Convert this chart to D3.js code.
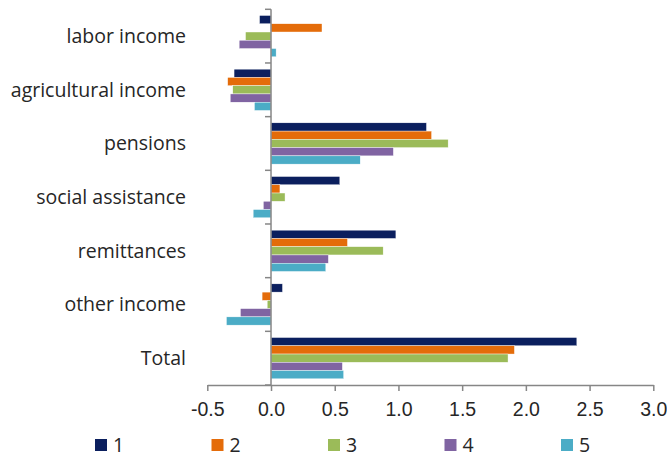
<!DOCTYPE html>
<html>
<head>
<meta charset="utf-8">
<script src="https://cdn.jsdelivr.net/npm/d3@7"></script>
<style>
  html, body { margin: 0; padding: 0; background: #fff; }
  svg { display: block; font-family: "Open Sans", "Noto Sans", sans-serif; }
</style>
</head>
<body>
<svg id="chart" width="667" height="457"></svg>
<script>
// Income components (rows) by group 1–5
const categories = ["labor income", "agricultural income", "pensions", "social assistance", "remittances", "other income", "Total"];
const seriesNames = ["1", "2", "3", "4", "5"];
const series1 = [-0.09, -0.29, 1.22, 0.54, 0.98, 0.09, 2.40];
const series2 = [0.40, -0.34, 1.26, 0.07, 0.60, -0.07, 1.91];
const series3 = [-0.20, -0.30, 1.39, 0.11, 0.88, -0.03, 1.86];
const series4 = [-0.25, -0.32, 0.96, -0.06, 0.45, -0.24, 0.56];
const series5 = [0.04, -0.13, 0.70, -0.14, 0.43, -0.35, 0.57];
const xTicks = [-0.5, 0, 0.5, 1, 1.5, 2, 2.5, 3];
const colors = ["#0B1F5E", "#E46C0A", "#9BBB59", "#8064A2", "#4BACC6"];

const allSeries = [series1, series2, series3, series4, series5];

const svg = d3.select("#chart");
const axisColor = "#868686";
const textColor = "#262626";

const x = d3.scaleLinear().domain([-0.5, 3]).range([207.3, 653.3]);
const y = d3.scaleBand().domain(categories).range([9.3, 385]).paddingInner(0).paddingOuter(0);
const ySub = d3.scaleBand().domain(seriesNames).range([0, y.bandwidth()]).paddingInner(0).paddingOuter(0.75);

// bars
const rows = categories.map((c, i) => ({ cat: c, vals: allSeries.map((s, k) => ({ name: seriesNames[k], v: s[i], k })) }));
const g = svg.append("g");
g.selectAll("g.row").data(rows).join("g")
  .attr("class", "row")
  .attr("transform", d => `translate(0,${y(d.cat)})`)
  .selectAll("rect").data(d => d.vals).join("rect")
  .attr("x", d => x(Math.min(0, d.v)))
  .attr("width", d => Math.abs(x(d.v) - x(0)))
  .attr("y", d => ySub(d.name))
  .attr("height", ySub.bandwidth())
  .attr("fill", d => colors[d.k])
  .attr("stroke", "#ffffff")
  .attr("stroke-width", 0.4);

// x axis
const xAxis = d3.axisBottom(x).tickValues(xTicks).tickSize(6).tickSizeOuter(0).tickPadding(9)
  .tickFormat(d => d.toFixed(1));
const gx = svg.append("g").attr("transform", "translate(0,385)").call(xAxis);
gx.select(".domain").attr("stroke", axisColor).attr("stroke-width", 1.5);
gx.selectAll(".tick line").attr("stroke", axisColor).attr("stroke-width", 1.5);
gx.selectAll(".tick text").attr("fill", textColor).style("font-size", "19.5px").attr("dy", "0.8em");

// y axis (category boundaries as ticks)
const gy = svg.append("g");
gy.append("line").attr("x1", x(0)).attr("x2", x(0)).attr("y1", y.range()[0]).attr("y2", y.range()[1])
  .attr("stroke", axisColor).attr("stroke-width", 1.5);
const bounds = categories.map(c => y(c)).concat([y.range()[1]]);
gy.selectAll("line.yt").data(bounds).join("line").attr("class", "yt")
  .attr("x1", x(0) - 6).attr("x2", x(0)).attr("y1", d => d).attr("y2", d => d)
  .attr("stroke", axisColor).attr("stroke-width", 1.5);
gy.selectAll("text").data(categories).join("text")
  .attr("x", 186).attr("y", d => y(d) + y.bandwidth() / 2)
  .attr("dy", "0.35em").attr("text-anchor", "end")
  .attr("fill", textColor).style("font-size", "19.5px")
  .text(d => d);

// legend
const legend = svg.append("g");
const lx = d3.scalePoint().domain(seriesNames).range([95, 561]);
const li = legend.selectAll("g").data(seriesNames).join("g")
  .attr("transform", d => `translate(${lx(d)},439)`);
li.append("rect").attr("width", 12).attr("height", 12).attr("fill", (d, i) => colors[i]);
li.append("text").attr("x", 18).attr("y", 12.5)
  .attr("fill", textColor).style("font-size", "19.5px").text(d => d);
</script>
</body>
</html>
